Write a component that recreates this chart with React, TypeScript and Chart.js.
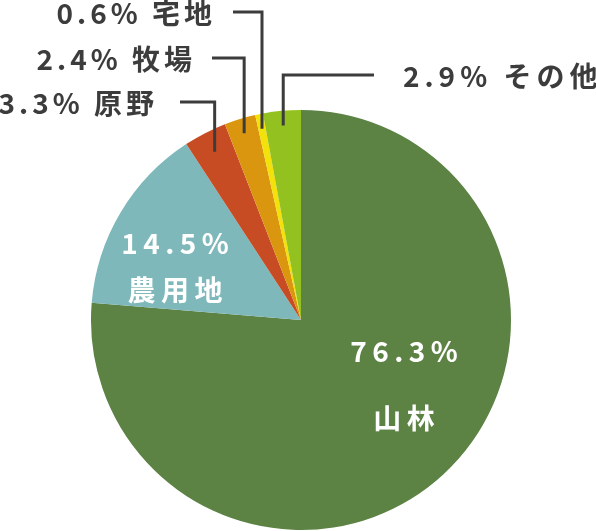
import React, { useEffect, useRef } from "react";
import { Chart, ArcElement, PieController } from "chart.js";

Chart.register(ArcElement, PieController);

const categories = ["山林", "農用地", "原野", "牧場", "宅地", "その他"];
const shares = [76.3, 14.5, 3.3, 2.4, 0.6, 2.9];
const sliceColors = ["#5c8244", "#7eb8ba", "#c84c23", "#db960f", "#f3e10b", "#93c120"];
const percentLabels = shares.map((v) => v.toFixed(1) + "%");

// layout for labels (positions only)
const insideLayout: Record<number, { dx: number; dy1: number; dy2: number }> = {
  0: { dx: 103, dy1: 31, dy2: 98 },
  1: { dx: -126, dy1: -77, dy2: -30 },
};
const outsideLayout: Record<
  number,
  { lineY: number; hx: number; side: "left" | "right"; gap: number; rf: number; sp: number }
> = {
  2: { lineY: 102, hx: 180, side: "left", gap: 26, rf: 0.9, sp: 4 },
  3: { lineY: 58, hx: 212, side: "left", gap: 20, rf: 0.93, sp: 4 },
  4: { lineY: 12, hx: 233, side: "left", gap: 21, rf: 0.93, sp: 4 },
  5: { lineY: 75, hx: 374, side: "right", gap: 29, rf: 0.93, sp: 5 },
};

const FONT_OUT = '700 28px "Noto Sans CJK JP"';
const FONT_IN = '700 28px "Noto Sans CJK JP"';
const SPACING_IN = 5.5;

function spacedWidth(ctx: CanvasRenderingContext2D, text: string, spacing: number) {
  let w = 0;
  const chars = Array.from(text);
  chars.forEach((c, i) => {
    w += ctx.measureText(c).width;
    if (i < chars.length - 1) w += spacing;
  });
  return w;
}

function drawSpaced(
  ctx: CanvasRenderingContext2D,
  text: string,
  x: number,
  y: number,
  align: "left" | "right" | "center",
  spacing: number
) {
  const w = spacedWidth(ctx, text, spacing);
  let cx = align === "left" ? x : align === "right" ? x - w : x - w / 2;
  ctx.textAlign = "left";
  for (const c of Array.from(text)) {
    ctx.fillText(c, cx, y);
    cx += ctx.measureText(c).width + spacing;
  }
}

const labelPlugin = {
  id: "pieLabels",
  afterDraw(chart: any) {
    const ctx: CanvasRenderingContext2D = chart.ctx;
    const arcs = chart.getDatasetMeta(0).data;
    ctx.save();
    ctx.textBaseline = "middle";
    arcs.forEach((arc: any, i: number) => {
      const { x, y, outerRadius, startAngle, endAngle } = arc.getProps(
        ["x", "y", "outerRadius", "startAngle", "endAngle"],
        true
      );
      const mid = (startAngle + endAngle) / 2;
      if (insideLayout[i]) {
        const l = insideLayout[i];
        ctx.fillStyle = "#ffffff";
        ctx.font = FONT_IN;
        drawSpaced(ctx, percentLabels[i], x + l.dx, y + l.dy1, "center", SPACING_IN);
        drawSpaced(ctx, categories[i], x + l.dx, y + l.dy2, "center", SPACING_IN);
      } else if (outsideLayout[i]) {
        const l = outsideLayout[i];
        const r = outerRadius * l.rf;
        const px = x + Math.cos(mid) * r;
        const py = y + Math.sin(mid) * r;
        ctx.strokeStyle = "#3c3c3c";
        ctx.lineWidth = 3;
        ctx.lineCap = "butt";
        ctx.lineJoin = "miter";
        ctx.beginPath();
        ctx.moveTo(px, py);
        ctx.lineTo(px, l.lineY);
        ctx.lineTo(l.hx, l.lineY);
        ctx.stroke();
        ctx.fillStyle = "#3c3c3c";
        ctx.font = FONT_OUT;
        const text = percentLabels[i] + " " + categories[i];
        if (l.side === "left") {
          drawSpaced(ctx, text, l.hx - l.gap, l.lineY + 1, "right", l.sp);
        } else {
          drawSpaced(ctx, text, l.hx + l.gap, l.lineY + 1, "left", l.sp);
        }
      }
    });
    ctx.restore();
  },
};

export default function App() {
  const canvasRef = useRef<HTMLCanvasElement | null>(null);

  useEffect(() => {
    if (!canvasRef.current) return;
    const chart = new Chart(canvasRef.current, {
      type: "pie",
      data: {
        labels: categories,
        datasets: [
          {
            data: shares,
            backgroundColor: sliceColors,
            borderWidth: 0,
          },
        ],
      },
      options: {
        animation: false,
        responsive: true,
        maintainAspectRatio: false,
        layout: { padding: { left: 91, right: 85, top: 110, bottom: 1 } },
        plugins: { legend: { display: false }, tooltip: { enabled: false } },
        events: [],
      },
      plugins: [labelPlugin],
    });
    return () => chart.destroy();
  }, []);

  return (
    <div style={{ position: "absolute", left: 0, top: 0, width: 596, height: 531, background: "#ffffff" }}>
      <canvas ref={canvasRef} />
    </div>
  );
}
